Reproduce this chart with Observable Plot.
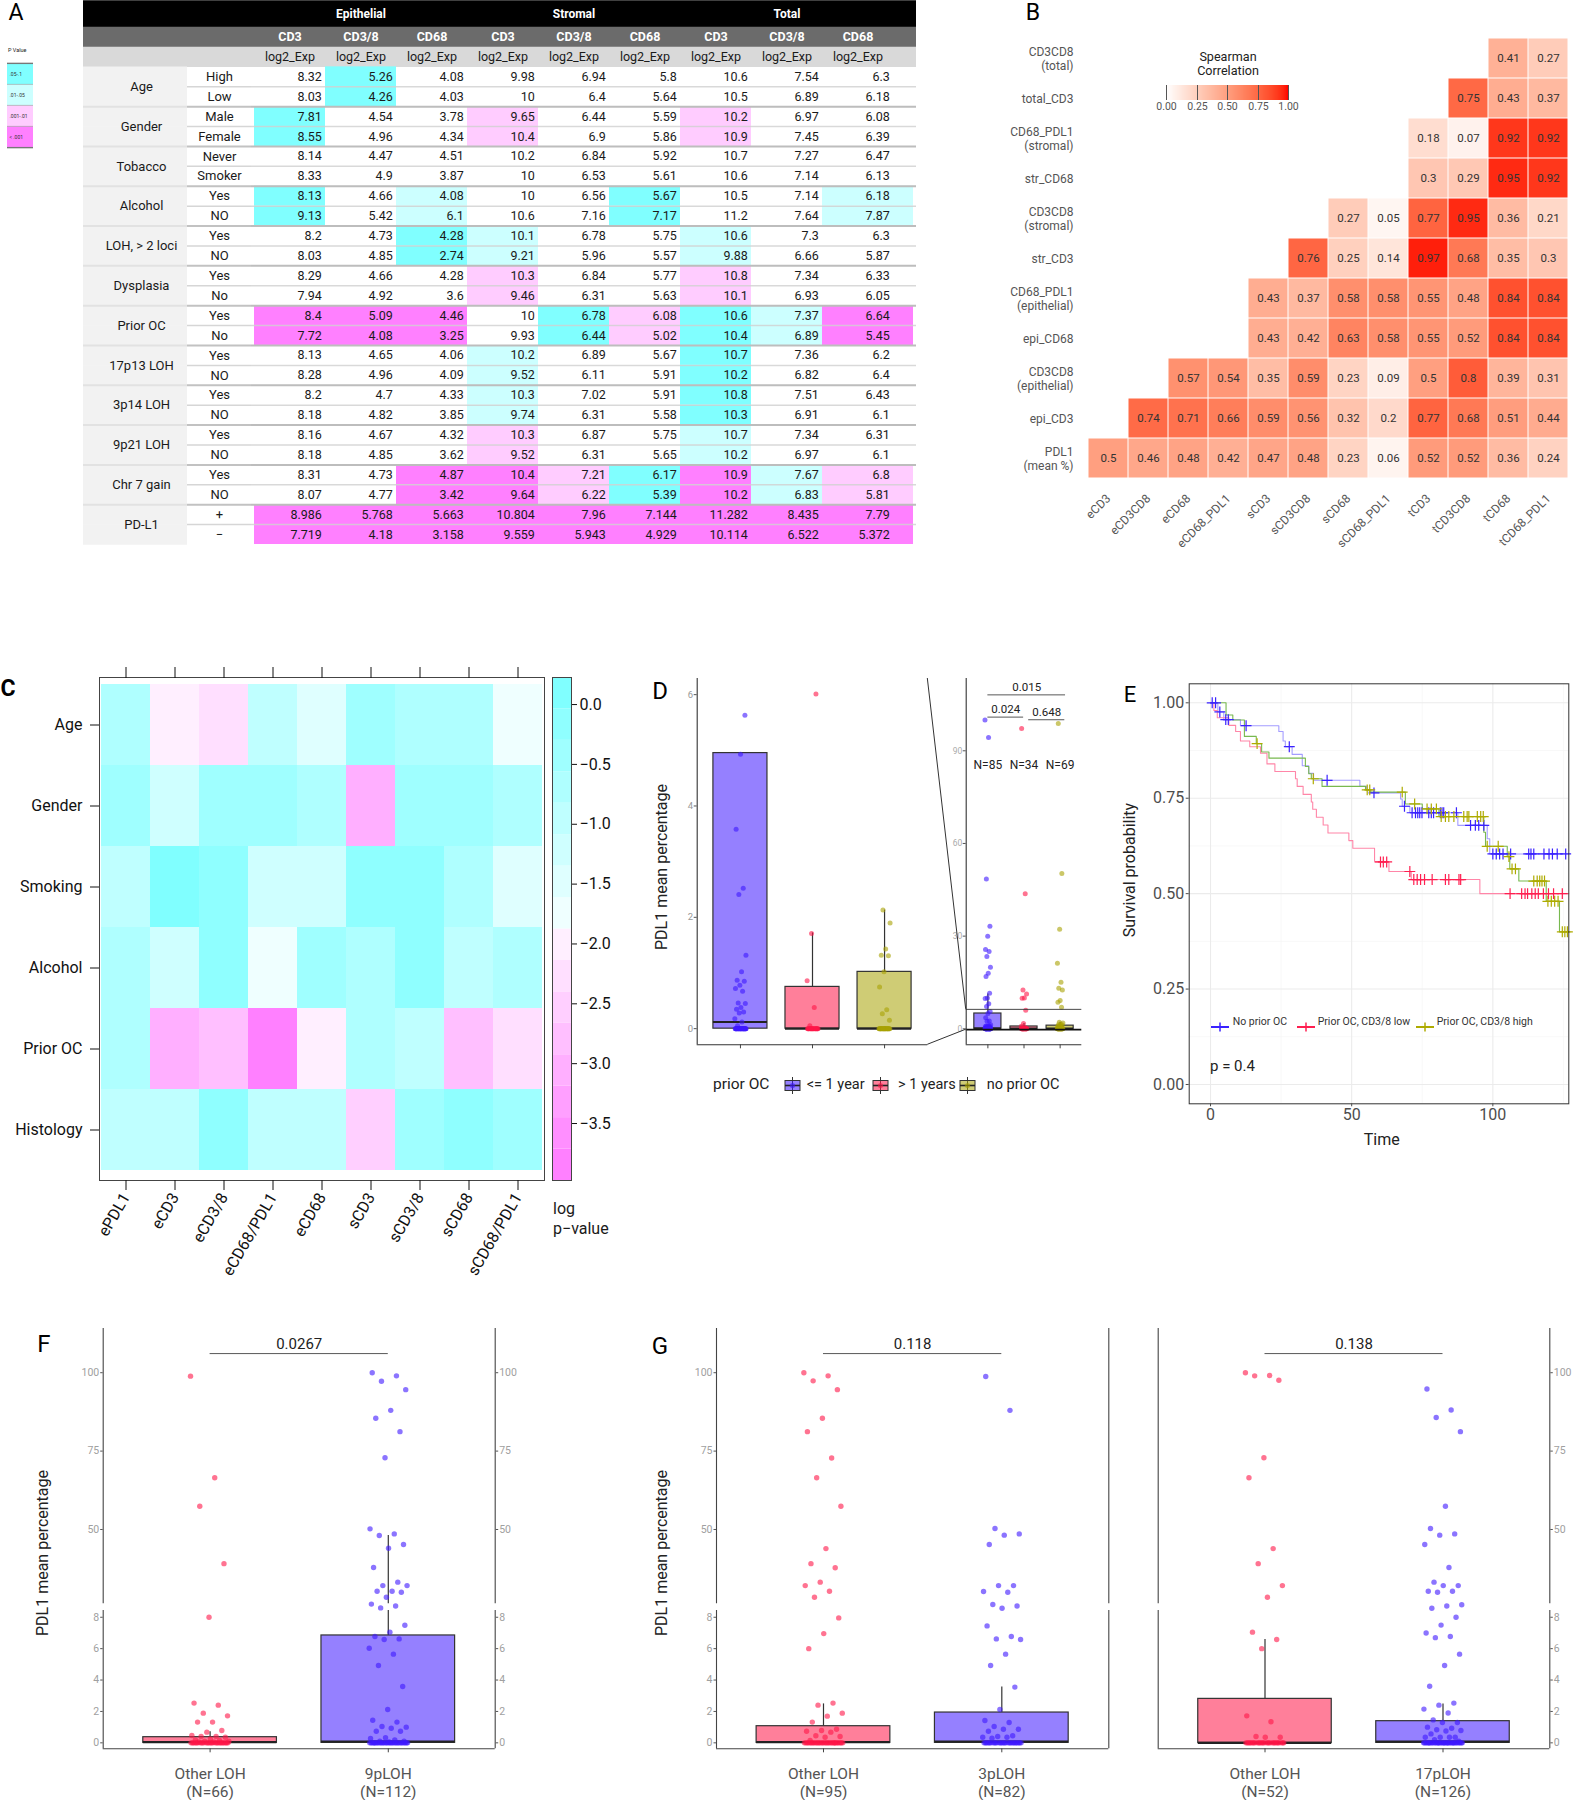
<!DOCTYPE html>
<html><head><meta charset="utf-8">
<script src="https://cdn.jsdelivr.net/npm/d3@7"></script>
<script src="https://cdn.jsdelivr.net/npm/@observablehq/plot@0.6"></script>
<style>
html,body{margin:0;padding:0;background:#fff;}
#root{position:relative;width:1573px;height:1800px;overflow:hidden;font-family:Roboto,"DejaVu Sans",sans-serif;background:#fff;}
#root svg{overflow:visible;}
.t{position:absolute;white-space:pre;line-height:1;color:#1a1a1a;font-family:Roboto,sans-serif;}
</style></head><body><div id="root"></div>
<script>
// ================= DATA =================
// ---- Panel A (table) ----
const aGroups = ["Age","Gender","Tobacco","Alcohol","LOH, > 2 loci","Dysplasia","Prior OC","17p13 LOH","3p14 LOH","9p21 LOH","Chr 7 gain","PD-L1"];
const aLevels = [["High","Low"],["Male","Female"],["Never","Smoker"],["Yes","NO"],["Yes","NO"],["Yes","No"],["Yes","No"],["Yes","NO"],["Yes","NO"],["Yes","NO"],["Yes","NO"],["+","−"]];
const aCompartments = ["Epithelial","Stromal","Total"];
const aMarkers = ["CD3","CD3/8","CD68"];
const aUnit = "log2_Exp";
const aColKeys = ["eCD3","eCD3/8","eCD68","sCD3","sCD3/8","sCD68","tCD3","tCD3/8","tCD68"];
const aEpiCD3  = ["8.32","8.03","7.81","8.55","8.14","8.33","8.13","9.13","8.2","8.03","8.29","7.94","8.4","7.72","8.13","8.28","8.2","8.18","8.16","8.18","8.31","8.07","8.986","7.719"];
const aEpiCD38 = ["5.26","4.26","4.54","4.96","4.47","4.9","4.66","5.42","4.73","4.85","4.66","4.92","5.09","4.08","4.65","4.96","4.7","4.82","4.67","4.85","4.73","4.77","5.768","4.18"];
const aEpiCD68 = ["4.08","4.03","3.78","4.34","4.51","3.87","4.08","6.1","4.28","2.74","4.28","3.6","4.46","3.25","4.06","4.09","4.33","3.85","4.32","3.62","4.87","3.42","5.663","3.158"];
const aStrCD3  = ["9.98","10","9.65","10.4","10.2","10","10","10.6","10.1","9.21","10.3","9.46","10","9.93","10.2","9.52","10.3","9.74","10.3","9.52","10.4","9.64","10.804","9.559"];
const aStrCD38 = ["6.94","6.4","6.44","6.9","6.84","6.53","6.56","7.16","6.78","5.96","6.84","6.31","6.78","6.44","6.89","6.11","7.02","6.31","6.87","6.31","7.21","6.22","7.96","5.943"];
const aStrCD68 = ["5.8","5.64","5.59","5.86","5.92","5.61","5.67","7.17","5.75","5.57","5.77","5.63","6.08","5.02","5.67","5.91","5.91","5.58","5.75","5.65","6.17","5.39","7.144","4.929"];
const aTotCD3  = ["10.6","10.5","10.2","10.9","10.7","10.6","10.5","11.2","10.6","9.88","10.8","10.1","10.6","10.4","10.7","10.2","10.8","10.3","10.7","10.2","10.9","10.2","11.282","10.114"];
const aTotCD38 = ["7.54","6.89","6.97","7.45","7.27","7.14","7.14","7.64","7.3","6.66","7.34","6.93","7.37","6.89","7.36","6.82","7.51","6.91","7.34","6.97","7.67","6.83","8.435","6.522"];
const aTotCD68 = ["6.3","6.18","6.08","6.39","6.47","6.13","6.18","7.87","6.3","5.87","6.33","6.05","6.64","5.45","6.2","6.4","6.43","6.1","6.31","6.1","6.8","5.81","7.79","5.372"];
// p-value class per group and column: 0 none, 1 ".05-.1", 2 ".01-.05", 3 ".001-.01", 4 "< .001"
const aSig = [
  [0,1,0,0,0,0,0,0,0],
  [1,0,0,3,0,0,3,0,0],
  [0,0,0,0,0,0,0,0,0],
  [1,0,2,0,0,1,0,0,2],
  [0,0,1,2,0,0,2,0,0],
  [0,0,0,3,0,0,3,0,0],
  [4,4,4,0,1,3,1,2,4],
  [0,0,0,2,0,0,1,0,0],
  [0,0,0,2,0,0,1,0,0],
  [0,0,0,3,0,0,2,0,0],
  [0,0,4,4,3,1,4,2,3],
  [4,4,4,4,4,4,4,4,4]
];
const aPClasses = [".05-.1",".01-.05",".001-.01","< .001"];
const aPColors = ["#80ffff","#ccffff","#ffccff","#ff80ff"];

// ---- Panel B (Spearman correlation) ----
const bCols = ["eCD3","eCD3CD8","eCD68","eCD68_PDL1","sCD3","sCD3CD8","sCD68","sCD68_PDL1","tCD3","tCD3CD8","tCD68","tCD68_PDL1"];
const bRowLabels = ["CD3CD8\n(total)","total_CD3","CD68_PDL1\n(stromal)","str_CD68","CD3CD8\n(stromal)","str_CD3","CD68_PDL1\n(epithelial)","epi_CD68","CD3CD8\n(epithelial)","epi_CD3","PDL1\n(mean %)"];
const bTotalCD3CD8 = [null,null,null,null,null,null,null,null,null,null,0.41,0.27];
const bTotalCD3    = [null,null,null,null,null,null,null,null,null,0.75,0.43,0.37];
const bStrCD68PDL1 = [null,null,null,null,null,null,null,null,0.18,0.07,0.92,0.92];
const bStrCD68     = [null,null,null,null,null,null,null,null,0.3,0.29,0.95,0.92];
const bStrCD3CD8   = [null,null,null,null,null,null,0.27,0.05,0.77,0.95,0.36,0.21];
const bStrCD3      = [null,null,null,null,null,0.76,0.25,0.14,0.97,0.68,0.35,0.3];
const bEpiCD68PDL1 = [null,null,null,null,0.43,0.37,0.58,0.58,0.55,0.48,0.84,0.84];
const bEpiCD68     = [null,null,null,null,0.43,0.42,0.63,0.58,0.55,0.52,0.84,0.84];
const bEpiCD3CD8   = [null,null,0.57,0.54,0.35,0.59,0.23,0.09,0.5,0.8,0.39,0.31];
const bEpiCD3      = [null,0.74,0.71,0.66,0.59,0.56,0.32,0.2,0.77,0.68,0.51,0.44];
const bPDL1        = [0.5,0.46,0.48,0.42,0.47,0.48,0.23,0.06,0.52,0.52,0.36,0.24];

// ---- Panel C (log p-value heatmap) ----
const cRows = ["Age","Gender","Smoking","Alcohol","Prior OC","Histology"];
const cCols = ["ePDL1","eCD3","eCD3/8","eCD68/PDL1","eCD68","sCD3","sCD3/8","sCD68","sCD68/PDL1"];
const cAge       = [-0.7,-2.0,-2.25,-0.95,-1.45,-0.45,-0.7,-0.7,-1.75];
const cGender    = [-0.5,-1.25,-0.4,-0.5,-0.7,-3.05,-0.5,-0.4,-0.6];
const cSmoking   = [-1.0,0.1,-0.2,-1.25,-1.25,-0.2,-0.2,-0.7,-1.45];
const cAlcohol   = [-0.7,-1.25,-0.2,-1.75,-0.45,-0.7,-0.2,-0.95,-0.7];
const cPriorOC   = [-0.7,-3.05,-2.8,-3.85,-2.0,-0.75,-0.95,-2.8,-2.3];
const cHistology = [-0.95,-0.95,-0.2,-0.95,-0.95,-2.55,-0.45,-0.2,-0.45];
const cKeyRange = [-3.976, 0.226];
const cKeyTicks = [0,-0.5,-1,-1.5,-2,-2.5,-3,-3.5];
const cmColors = ["#FF80FF","#FF8FFF","#FF9FFF","#FFAFFF","#FFBFFF","#FFCFFF","#FFDFFF","#FFEFFF","#EFFFFF","#DFFFFF","#CFFFFF","#BFFFFF","#AFFFFF","#9FFFFF","#8FFFFF","#80FFFF"];

// ---- Panel D (PDL1 by prior OC) ----
const dNames = ["<= 1 year","> 1 years","no prior OC"];
const dN = ["N=85","N=34","N=69"];
const dBlue = [100,94.3,48.5,33.2,30.0,25.7,25.0,23.4,19.9,18.0,16.9,11.5,10.0,9.8,8.1,7.2,5.63,4.93,3.58,2.52,2.41,1.32,1.02,0.87,0.85,0.78,0.72,0.67,0.46,0.45,0.38,0.35,0.3,0.28,0.18,0.12,0.05,
  0,0,0,0,0,0,0,0,0,0,0,0,0,0,0,0,0,0,0,0,0,0,0,0,0,0,0,0,0,0];
const dPink = [97.2,43.7,12.6,11.3,10.0,9.9,6.01,1.71,0.86,0.38,0.05,0,0,0,0,0,0,0,0,0,0,0,0,0,0,0,0,0,0];
const dOlive = [98.8,50.3,32.2,21.2,15.1,13.1,12.6,9.2,8.6,7.0,2.13,1.9,1.43,1.32,1.31,1.02,0.75,0.34,0.27,0.15,
  0,0,0,0,0,0,0,0,0,0,0,0,0,0,0,0,0,0,0,0,0,0,0,0,0];
const dBlueBox = {q1: 0, med: 0.12, q3: 4.95, hi: 11.3};
const dPinkBox = {q1: 0, med: 0, q3: 0.75, hi: 1.72};
const dOliveBox = {q1: 0, med: 0, q3: 1.02, hi: 2.13};
const dSig = [{x1: 1, x2: 3.15, y: 108.1, label: "0.015"},{x1: 1, x2: 1.99, y: 100.9, label: "0.024"},{x1: 2.13, x2: 3.13, y: 100.05, label: "0.648"}];
const dNy = 85.3;
const dZoomY = [-0.29, 6.29];

// ---- Panel E (Kaplan-Meier) ----
const eNames = ["No prior OC","Prior OC, CD3/8 low","Prior OC, CD3/8 high"];
const eNoPriorT = [0,2.6,4.7,10.6,24.2,25.7,26.5,28.9,32.5,34.8,36.5,52.9,55.3,56.8,67.3,67.9,70.6,87.6,98.0,98.9,126.9];
const eNoPriorS = [1,0.976,0.956,0.94,0.925,0.9,0.885,0.865,0.835,0.815,0.797,0.781,0.77,0.764,0.748,0.729,0.712,0.679,0.644,0.604,0.604];
const eNoPriorCens = [0.6,1.8,3.3,5.4,6.3,12.6,27.9,41.3,57.9,68.7,71.4,72.6,73.4,74.1,74.9,77.3,78.2,79.0,81.4,82.0,82.6,87.1,92.1,93.8,95.0,96.8,100.0,101.2,102.4,103.6,106.3,112.7,113.5,114.5,118.1,119.9,121.1,122.8,125.8];
const eLowT = [0,1.2,2.4,6.5,8.9,10.6,13.9,17.7,20.0,22.8,30.1,30.7,32.8,35.7,36.2,37.5,39.9,41.6,49.0,50.4,58.1,63.2,71.1,95.4,126.9];
const eLowS = [1,0.98,0.961,0.941,0.925,0.9,0.885,0.868,0.84,0.82,0.801,0.781,0.76,0.74,0.721,0.7,0.68,0.659,0.639,0.619,0.583,0.558,0.537,0.5,0.5];
const eLowCens = [60.2,61.2,62.4,70.6,72.0,73.2,74.4,75.8,78.5,83.2,84.4,88.0,88.6,106.1,110.2,111.4,112.3,113.8,115.0,116.1,117.9,119.7,121.5,124.6];
const eHighT = [0,5.5,7.9,12.0,16.2,18.1,20.7,33.6,34.8,35.7,39.5,54.9,56.5,69.0,75.0,80.9,96.8,97.4,105.1,106.0,109.2,118.9,123.6,126.9];
const eHighS = [1,0.968,0.955,0.912,0.893,0.871,0.855,0.833,0.814,0.801,0.781,0.772,0.766,0.735,0.722,0.702,0.661,0.624,0.597,0.565,0.533,0.48,0.4,0.4];
const eHighCens = [16.5,36.4,55.5,56.4,67.9,72.3,76.7,78.2,80.0,81.7,83.2,84.4,86.2,89.7,90.9,91.5,94.5,95.7,96.6,98.0,101.9,105.7,106.8,108.0,114.5,115.7,116.6,117.4,118.3,119.5,120.7,121.9,123.1,124.6,125.5,126.4];
const eMajorX = [0,50,100], eMinorX = [25,75,125];
const eMajorY = [0,0.25,0.5,0.75,1], eMinorY = [0.125,0.375,0.625,0.875];
const ePval = "p = 0.4";

// ---- Panels F & G (PDL1 by LOH) ----
const fOther = [98.9,66.5,57.4,39.1,8.0,2.53,2.40,1.89,1.72,1.32,1.32,0.79,0.68,0.47,0.40,0.40,0.36,0.25,0.19,0.15,0.1,0.1,0.05,0.05,
  0,0,0,0,0,0,0,0,0,0,0,0,0,0,0,0,0,0,0,0,0,0,0,0,0,0,0,0,0,0];
const f9p = [100,99.0,97.3,94.6,88.0,85.5,81.2,72.9,50.2,48.6,48.1,45.2,44.0,37.9,33.2,32.1,32.1,30.3,30.3,30.0,28.4,26.2,25.6,25.0,
  7.49,7.05,6.77,6.62,6.58,6.03,5.65,4.93,3.59,2.12,1.44,1.32,1.04,1.0,0.93,0.74,0.74,0.32,0.28,0.19,0.1,0.1,0.05,
  0,0,0,0,0,0,0,0,0,0,0,0,0,0,0,0,0,0,0,0,0,0,0,0,0,0,0,0,0,0,0,0,0,0,0];
const fOtherBox = {q1: 0, med: 0.05, q3: 0.36, hi: 0.7};
const f9pBox = {q1: 0, med: 0.08, q3: 6.84, hi: 48.1};
const fNames = ["Other LOH\n(N=66)","9pLOH\n(N=112)"];
const fSig = {x1: 1, x2: 2, y: 106.1, label: "0.0267"};

const g3Other = [100,99.0,97.4,94.6,85.5,81.2,72.8,66.5,57.4,43.9,39.1,37.8,33.2,32.1,30.3,28.4,7.96,6.96,6.0,2.53,2.4,1.89,1.7,1.32,0.87,0.79,0.74,0.68,0.45,0.4,0.36,0.15,
  0,0,0,0,0,0,0,0,0,0,0,0,0,0,0,0,0,0,0,0,0,0,0,0,0,0,0,0,0,0,0,0,0,0,0];
const g3p = [98.8,88.0,50.3,48.6,48.2,45.2,32.1,32.1,30.2,30.0,26.1,25.6,24.9,7.45,6.77,6.62,6.58,5.65,4.93,3.55,2.12,1.42,1.3,1.04,0.87,0.87,0.74,0.45,0.4,0.36,0.36,0.3,
  0,0,0,0,0,0,0,0,0,0,0,0,0,0,0,0,0,0,0,0,0,0,0,0,0,0,0,0,0,0];
const g3OtherBox = {q1: 0, med: 0.05, q3: 1.06, hi: 2.48};
const g3pBox = {q1: 0, med: 0.08, q3: 1.93, hi: 3.55};
const g3Names = ["Other LOH\n(N=95)","3pLOH\n(N=82)"];
const g3Sig = {x1: 1, x2: 2, y: 106.1, label: "0.118"};

const g17Other = [100,99.1,99.0,97.6,72.9,66.5,43.9,39.1,32.1,28.4,7.05,6.58,6.0,1.72,1.34,0.4,0.36,0.36,
  0,0,0,0,0,0,0,0,0,0,0,0,0,0,0,0,0,0,0,0,0,0,0,0,0,0,0,0,0,0];
const g17p = [94.8,88.1,85.7,81.2,57.4,50.3,48.6,48.2,45.2,37.9,33.2,32.1,32.1,30.3,30.3,30.0,26.0,25.6,24.9,
  8.0,7.5,7.0,6.77,6.7,5.65,4.93,3.6,2.53,2.4,2.15,1.9,1.46,1.3,1.3,1.0,0.93,0.83,0.79,0.75,0.57,0.36,0.36,0.36,0.36,0.2,0.1,
  0,0,0,0,0,0,0,0,0,0,0,0,0,0,0,0,0,0,0,0,0,0,0,0,0,0,0,0,0,0,0,0,0,0,0,0,0,0,0,0];
const g17OtherBox = {q1: 0, med: 0, q3: 2.8, hi: 6.58};
const g17pBox = {q1: 0, med: 0.08, q3: 1.38, hi: 2.48};
const g17Names = ["Other LOH\n(N=52)","17pLOH\n(N=126)"];
const g17Sig = {x1: 1, x2: 2, y: 106.1, label: "0.138"};

const brkUpper = [26.3, 114.1];
const brkLower = [-0.38, 8.43];
const upperTicks = [50,75,100];
const lowerTicks = [0,2,4,6,8];

// colours (styles)
const BLUE = "#3e18ff", RED = "#ff1647", OLIVE = "#a8a204";

// ================= HELPERS =================
const root = document.getElementById("root");
const STY = {fontFamily: "Roboto, sans-serif", background: "transparent", overflow: "visible", maxWidth: "none"};
const fmtInt = d => String(d);
function put(node, left, top) {
  const d = document.createElement("div");
  d.style.cssText = `position:absolute;left:${left}px;top:${top}px;`;
  d.appendChild(node); root.appendChild(d); return node;
}
function txt(s, x, y, fs, o = {}) {
  const d = document.createElement("div");
  d.className = "t"; d.textContent = s;
  const a = o.anchor || "middle";
  const tx = a === "start" ? "0" : a === "end" ? "-100%" : "-50%";
  d.style.left = x + "px"; d.style.top = y + "px"; d.style.fontSize = fs + "px";
  if (o.color) d.style.color = o.color;
  if (o.weight) d.style.fontWeight = o.weight;
  if (o.lh) d.style.lineHeight = o.lh;
  d.style.textAlign = a === "start" ? "left" : a === "end" ? "right" : "center";
  d.style.transform = `translate(${tx},-50%)` + (o.rotate ? ` rotate(${o.rotate}deg)` : "");
  root.appendChild(d); return d;
}
function svgBox(left, top, w, h, inner) {
  const d = document.createElement("div");
  d.style.cssText = `position:absolute;left:${left}px;top:${top}px;width:${w}px;height:${h}px;`;
  d.innerHTML = `<svg width="${w}" height="${h}" viewBox="0 0 ${w} ${h}">${inner}</svg>`;
  root.appendChild(d); return d;
}
function jit(j, w) { return (((j * 0.6180339887498949) % 1) - 0.5) * 2 * w; }
function jittered(groups, w) {
  return groups.flatMap((g, k) => g.values.map((v, j) => ({x: k + 1 + jit(j + 5 * k, w), v, color: g.color})));
}
function boxMarks(groups, lo, hi, fullOnly) {
  const st = groups.map((g, k) => ({...g.stats, i: k + 1, color: g.color}));
  const wh = st.filter(s => fullOnly ? (s.hi <= hi && s.hi > s.q3) : (s.hi > Math.max(s.q3, lo) && Math.max(s.q3, lo) < hi));
  return [
    Plot.ruleX(wh, {x: "i", y1: s => Math.max(s.q3, lo), y2: s => Math.min(s.hi, hi), stroke: "#333", strokeWidth: 1.2}),
    Plot.rect(st.filter(s => s.q3 > lo && s.q1 < hi), {x1: s => s.i - 0.375, x2: s => s.i + 0.375, y1: s => Math.max(s.q1, lo), y2: s => Math.min(s.q3, hi), fill: "color", fillOpacity: 0.55, stroke: "#333", strokeWidth: 1.2}),
    Plot.ruleY(st.filter(s => s.med >= lo && s.med <= hi), {y: "med", x1: s => s.i - 0.375, x2: s => s.i + 0.375, stroke: "#222", strokeWidth: 2.2})
  ];
}

// ================= PANEL A =================
const aColumns = [aEpiCD3, aEpiCD38, aEpiCD68, aStrCD3, aStrCD38, aStrCD68, aTotCD3, aTotCD38, aTotCD68];
const aHeadFill = {H0: "#000000", H1: "#6b6b6b", H2: "#d9d9d9"};
const aRowKeys = aGroups.flatMap((g, gi) => aLevels[gi].map((l, li) => `r${gi}_${li}`));
// each row is split into sub-units so that the first header row can be taller
const aUnitsOf = k => (k === "H0" ? 4 : 3);
const aAllRows = ["H0", "H1", "H2"].concat(aRowKeys);
const aYdom = aAllRows.flatMap(k => d3.range(aUnitsOf(k)).map(j => `${k}#${j}`));
const aH = 544, aU = aH / aYdom.length;
const aMid = k => `${k}#1`, aTop = k => `${k}#0`;
const aCells = aColumns.flatMap((vals, c) => vals.map((v, r) => ({col: aColKeys[c], row: aRowKeys[r], val: v, sig: aSig[Math.floor(r / 2)][c]})));
const aLast = aColKeys[aColKeys.length - 1];
const aMinorSep = aRowKeys.filter((k, i) => i % 2 === 1);
const aMajorSep = aRowKeys.filter((k, i) => i % 2 === 0 && i > 0);
const aY = {type: "band", domain: aYdom, range: [0, aH], padding: 0, axis: null};
const aHeadMarks = [
  Plot.ruleY(["H0"], {y: aMid, dy: aU / 2, stroke: aHeadFill.H0, strokeWidth: 4 * aU + 0.5}),
  Plot.ruleY(["H1", "H2"], {y: aMid, stroke: d => aHeadFill[d], strokeWidth: 3 * aU + 0.5})
];

const aCatPlot = Plot.plot({
  width: 104, height: aH, margin: 0, style: STY, y: aY, color: {type: "identity"},
  marks: [
    ...aHeadMarks,
    Plot.ruleY(aRowKeys, {y: aMid, stroke: "#f2f2f2", strokeWidth: 3 * aU + 0.5}),
    Plot.ruleY(aMajorSep, {y: aTop, dy: -aU / 2, stroke: "#e2e2e2", strokeWidth: 2}),
    Plot.text(aGroups, {y: (d, i) => `${aRowKeys[2 * i]}#2`, text: d => d, dy: aU / 2, dx: 6, fontSize: 13, fill: "#1a1a1a"})
  ]
});
put(aCatPlot, 83, 0);

const aSubPlot = Plot.plot({
  width: 64, height: aH, margin: 0, style: STY, y: aY, color: {type: "identity"},
  marks: [
    ...aHeadMarks,
    Plot.ruleY(aMinorSep, {y: aTop, dy: -aU / 2, stroke: "#d6d6d6", strokeWidth: 1.5}),
    Plot.ruleY(aMajorSep, {y: aTop, dy: -aU / 2, stroke: "#c2c2c2", strokeWidth: 2}),
    Plot.text(aRowKeys, {y: aMid, text: (d, i) => aLevels[Math.floor(i / 2)][i % 2], fontSize: 13, fill: "#1a1a1a"})
  ]
});
put(aSubPlot, 187, 0);

const aColW = 645 / 9;
const aDataPlot = Plot.plot({
  width: 665, height: aH, margin: 0, style: STY, y: aY, color: {type: "identity"},
  x: {type: "band", domain: aColKeys, range: [0, 645], padding: 0, axis: null},
  marks: [
    ...aHeadMarks,
    Plot.cell(aCells.filter(d => d.sig && d.col !== aLast), {x: "col", y: d => aMid(d.row), fill: d => aPColors[d.sig - 1], insetTop: -aU, insetBottom: -aU}),
    Plot.cell(aCells.filter(d => d.sig && d.col === aLast), {x: "col", y: d => aMid(d.row), fill: d => aPColors[d.sig - 1], insetTop: -aU, insetBottom: -aU, insetRight: -20}),
    Plot.ruleY(aMinorSep, {y: aTop, dy: -aU / 2, stroke: "#cfcfcf", strokeOpacity: 0.8, strokeWidth: 1.5}),
    Plot.ruleY(aMajorSep, {y: aTop, dy: -aU / 2, stroke: "#bdbdbd", strokeWidth: 2}),
    Plot.text(aCells, {x: "col", y: d => aMid(d.row), text: "val", textAnchor: "end", dx: aColW / 2 - 4, fontSize: 12.5, fill: "#1a1a1a"}),
    Plot.text(aColKeys, {x: d => d, y: () => "H1#1", text: (d, i) => aMarkers[i % 3], fill: "white", fontWeight: "bold", fontSize: 12.5}),
    Plot.text(aColKeys, {x: d => d, y: () => "H2#1", text: () => aUnit, fill: "#1a1a1a", fontSize: 12.5}),
    Plot.text(aCompartments, {x: (d, i) => aColKeys[i * 3 + 1], y: () => "H0#1", dy: aU / 2, text: d => d, fill: "white", fontWeight: "bold", fontSize: 12})
  ]
});
put(aDataPlot, 251, 0);

// P value legend
txt("P Value", 8, 51, 5.5, {anchor: "start"});
const aLegend = Plot.plot({
  width: 26, height: 85, margin: 0, style: STY, color: {type: "identity"},
  y: {type: "band", domain: aPClasses, range: [0, 85], padding: 0, axis: null},
  marks: [
    Plot.ruleY(aPClasses, {y: d => d, stroke: (d, i) => aPColors[i], strokeWidth: 85 / 4}),
    Plot.ruleY(aPClasses.slice(1), {y: d => d, dy: -85 / 8, stroke: "#9a9a9a", strokeWidth: 0.6}),
    Plot.ruleY(aPClasses.slice(0, 1), {y: d => d, dy: -85 / 8, stroke: "#777", strokeWidth: 1.4}),
    Plot.ruleY(aPClasses.slice(-1), {y: d => d, dy: 85 / 8, stroke: "#777", strokeWidth: 1.4}),
    Plot.text(aPClasses, {y: d => d, text: d => d, frameAnchor: "left", textAnchor: "start", dx: 2, fontSize: 5, fill: "#333"})
  ]
});
put(aLegend, 7, 62);

// ================= PANEL B =================
const bRowsVals = [bTotalCD3CD8, bTotalCD3, bStrCD68PDL1, bStrCD68, bStrCD3CD8, bStrCD3, bEpiCD68PDL1, bEpiCD68, bEpiCD3CD8, bEpiCD3, bPDL1];
const bCells = bRowsVals.flatMap((vals, r) => vals.map((v, c) => v == null ? null : {row: bRowLabels[r], col: bCols[c], r: v}).filter(Boolean));
const bColor = {type: "linear", domain: [0, 1], range: ["#ffffff", "#ff0000"], interpolate: "lab"};
const panelB = Plot.plot({
  width: 573, height: 560, marginLeft: 83, marginRight: 0, marginTop: 33, marginBottom: 77,
  style: {...STY, fontSize: "12px", color: "#555"},
  x: {type: "band", domain: bCols, padding: 0},
  y: {type: "band", domain: bRowLabels, padding: 0},
  color: bColor,
  marks: [
    Plot.cell(bCells, {x: "col", y: "row", fill: "r", inset: 0.5}),
    Plot.text(bCells, {x: "col", y: "row", text: d => String(d.r), fill: "#333", fontSize: 11.5}),
    Plot.axisX({tickRotate: -45, tickSize: 0, tickPadding: 13, label: null, fontSize: 12}),
    Plot.axisY({tickSize: 0, tickPadding: 10, label: null, fontSize: 12, lineHeight: 1.15})
  ]
});
put(panelB, 1000, 0);
txt("Spearman\nCorrelation", 1228, 64, 12.6, {lh: 1.12, color: "#222"});
const bLegend = Plot.legend({
  color: bColor, width: 146, height: 40, marginLeft: 12, marginRight: 12, marginTop: 4, marginBottom: 21,
  ticks: [0, 0.25, 0.5, 0.75, 1], tickFormat: d3.format(".2f"), tickSize: 0, label: null,
  style: {fontFamily: "Roboto, sans-serif", fontSize: "10.5px", color: "#555", background: "transparent"}
});
put(bLegend, 1154, 81);

// ================= PANEL C =================
const cVals = [cAge, cGender, cSmoking, cAlcohol, cPriorOC, cHistology];
const cData = cVals.flatMap((vals, r) => vals.map((v, c) => ({row: cRows[r], col: cCols[c], v})));
const cStep = (cKeyRange[1] - cKeyRange[0]) / cmColors.length;
const cEdges = cmColors.map((_, i) => cKeyRange[0] + i * cStep).concat([cKeyRange[1]]);
const cColor = {type: "threshold", domain: cEdges.slice(1, -1), range: cmColors};
const cBins = cmColors.map((c, i) => ({lo: cEdges[i], hi: cEdges[i + 1], mid: (cEdges[i] + cEdges[i + 1]) / 2}));
const panelC = Plot.plot({
  width: 560, height: 650, marginLeft: 99, marginRight: 16, marginTop: 27, marginBottom: 120,
  style: {...STY, fontSize: "16px", color: "#111"},
  x: {type: "band", domain: cCols, padding: 0},
  y: {type: "band", domain: cRows, padding: 0, range: [31, 522]},
  color: cColor,
  marks: [
    Plot.cell(cData, {x: "col", y: "row", fill: "v"}),
    Plot.frame({stroke: "#444"}),
    Plot.axisY({tickSize: 9, tickPadding: 8, label: null, fontSize: 16}),
    Plot.axisX({anchor: "top", tickSize: 11, tickFormat: () => "", label: null}),
    Plot.axisX({anchor: "bottom", tickSize: 10, tickRotate: -60, tickPadding: 4, label: null, fontSize: 16})
  ]
});
put(panelC, 0, 650);
const cKey = Plot.plot({
  width: 80, height: 650, marginLeft: 12, marginRight: 49, marginTop: 27, marginBottom: 120,
  style: {...STY, fontSize: "16px", color: "#111"},
  y: {domain: cKeyRange},
  color: cColor,
  marks: [
    Plot.rect(cBins, {y1: "lo", y2: "hi", fill: "mid"}),
    Plot.frame({stroke: "#444"}),
    Plot.axisY({anchor: "right", ticks: cKeyTicks, tickFormat: d3.format(".1f"), tickSize: 5, tickPadding: 3, label: null, fontSize: 16})
  ]
});
put(cKey, 540, 650);
txt("log\np−value", 553, 1219, 16, {anchor: "start", lh: 1.25});

// ================= PANEL D =================
const dGroups = [
  {values: dBlue, stats: dBlueBox, color: BLUE},
  {values: dPink, stats: dPinkBox, color: RED},
  {values: dOlive, stats: dOliveBox, color: OLIVE}
];
const dPts = jittered(dGroups, 0.08);
const dLeft = Plot.plot({
  width: 300, height: 420, marginLeft: 56.7, marginRight: 12.7, marginTop: 18, marginBottom: 35.7,
  style: STY, color: {type: "identity"},
  x: {domain: [0.4, 3.6]}, y: {domain: dZoomY},
  marks: [
    ...boxMarks(dGroups, dZoomY[0], dZoomY[1], true),
    Plot.dot(dPts.filter(p => p.v <= dZoomY[1]), {x: "x", y: "v", r: 2.5, fill: "color", fillOpacity: 0.6}),
    Plot.ruleX([0.4], {stroke: "#333", strokeWidth: 1.1}),
    Plot.ruleY([dZoomY[0]], {stroke: "#333", strokeWidth: 1.1}),
    Plot.axisY({ticks: [0, 2, 4, 6], tickSize: 3, tickFormat: () => "", color: "#555", label: null}),
    Plot.axisY({ticks: [0, 2, 4, 6], tickSize: 0, tickPadding: 4, tickFormat: fmtInt, fontSize: 9.5, color: "#999", label: null}),
    Plot.axisX({ticks: [1, 2, 3], tickSize: 4, tickFormat: () => "", color: "#444", label: null})
  ]
});
put(dLeft, 640, 660);
const dRight = Plot.plot({
  width: 160, height: 420, marginLeft: 25.7, marginRight: 18.7, marginTop: 18, marginBottom: 35.7,
  style: STY, color: {type: "identity"},
  x: {domain: [0.4, 3.6]}, y: {domain: [-5.18, 113.4]},
  marks: [
    ...boxMarks(dGroups, -5.18, 113.4, false),
    Plot.dot(dPts, {x: "x", y: "v", r: 2.5, fill: "color", fillOpacity: 0.6}),
    Plot.ruleY([dZoomY[1]], {stroke: "#333", strokeWidth: 0.9}),
    Plot.ruleY([dZoomY[0]], {stroke: "#111", strokeWidth: 1.8}),
    Plot.ruleX([0.4], {stroke: "#333", strokeWidth: 1.1}),
    Plot.ruleY([-5.18], {stroke: "#333", strokeWidth: 1.1}),
    Plot.ruleY(dSig, {y: "y", x1: "x1", x2: "x2", stroke: "#444", strokeWidth: 0.9}),
    Plot.text(dSig, {x: d => (d.x1 + d.x2) / 2, y: "y", text: "label", dy: -7.5, fontSize: 11.5, fill: "#222"}),
    Plot.text(dN, {x: (d, i) => i + 1, y: () => dNy, text: d => d, fontSize: 12, fill: "#222"}),
    Plot.axisY({ticks: [0, 30, 60, 90], tickSize: 3, tickFormat: () => "", color: "#555", label: null}),
    Plot.axisY({ticks: [0, 30, 60, 90], tickSize: 0, tickPadding: 4, tickFormat: fmtInt, fontSize: 8.5, color: "#aaa", label: null}),
    Plot.axisX({ticks: [1, 2, 3], tickSize: 4, tickFormat: () => "", color: "#444", label: null})
  ]
});
put(dRight, 940, 660);
{
  const xl = 640 + dLeft.scale("x").apply(3.6);
  const ylt = 660 + dLeft.scale("y").apply(dZoomY[1]);
  const ylb = 660 + dLeft.scale("y").apply(dZoomY[0]);
  const xr = 940 + dRight.scale("x").apply(0.4);
  const yrt = 660 + dRight.scale("y").apply(dZoomY[1]);
  const yrb = 660 + dRight.scale("y").apply(dZoomY[0]);
  svgBox(0, 0, 1573, 1800, `<line x1="${xl}" y1="${ylt}" x2="${xr}" y2="${yrt}" stroke="#333" stroke-width="1"/><line x1="${xl}" y1="${ylb}" x2="${xr}" y2="${yrb}" stroke="#333" stroke-width="1"/>`).style.pointerEvents = "none";
}
txt("PDL1 mean percentage", 661.7, 866.7, 16, {rotate: -90, color: "#222"});
txt("prior OC", 713, 1085, 15.5, {anchor: "start", color: "#222"});
[BLUE, RED, OLIVE].forEach((c, i) => {
  const kx = [784, 871.7, 959][i], lx = [806.7, 898, 986.7][i];
  svgBox(kx, 1076.5, 17, 17, `<line x1="8.5" y1="0" x2="8.5" y2="17" stroke="#333" stroke-width="1"/><rect x="1" y="3.5" width="15" height="10" fill="${c}" fill-opacity="0.55" stroke="#333" stroke-width="1"/><line x1="1" y1="8.5" x2="16" y2="8.5" stroke="#222" stroke-width="1.6"/><circle cx="8.5" cy="8.5" r="2.6" fill="${c}" fill-opacity="0.6"/>`);
  txt(dNames[i], lx, 1085, 14.5, {anchor: "start", color: "#222"});
});

// ================= PANEL E =================
const eGroups = [
  {t: eNoPriorT, s: eNoPriorS, cens: eNoPriorCens, line: "#a49dff", mark: "#3a22ff"},
  {t: eHighT, s: eHighS, cens: eHighCens, line: "#78b94f", mark: "#aeab00"},
  {t: eLowT, s: eLowS, cens: eLowCens, line: "#ff86a8", mark: "#ff1f50"}
];
function survAt(g, t) { let s = 1; for (let i = 0; i < g.t.length; i++) if (g.t[i] <= t) s = g.s[i]; return s; }
const panelE = Plot.plot({
  width: 473, height: 500, marginLeft: 88.7, marginRight: 4.7, marginTop: 23.3, marginBottom: 56.7,
  style: STY, x: {domain: [-7.55, 126.9]}, y: {domain: [-0.0506, 1.0498]},
  marks: [
    Plot.ruleX(eMinorX, {stroke: "#f3f3f3", strokeWidth: 0.6}),
    Plot.ruleY(eMinorY, {stroke: "#f3f3f3", strokeWidth: 0.6}),
    Plot.ruleX(eMajorX, {stroke: "#ebebeb", strokeWidth: 1.1}),
    Plot.ruleY(eMajorY, {stroke: "#ebebeb", strokeWidth: 1.1}),
    ...eGroups.map(g => Plot.line(g.t.map((t, i) => ({t, s: g.s[i]})), {x: "t", y: "s", curve: "step-after", stroke: g.line, strokeWidth: 1.1})),
    ...eGroups.map(g => Plot.dot(g.cens, {x: d => d, y: d => survAt(g, d), symbol: "plus", r: 3.6, stroke: g.mark, strokeWidth: 1.2})),
    Plot.frame({stroke: "#333", strokeWidth: 1}),
    Plot.axisY({ticks: eMajorY, tickFormat: d3.format(".2f"), tickSize: 3, tickPadding: 2, fontSize: 16, color: "#4d4d4d", label: null}),
    Plot.axisX({ticks: eMajorX, tickSize: 3, tickPadding: 2, tickFormat: fmtInt, fontSize: 16, color: "#4d4d4d", label: null})
  ]
});
put(panelE, 1100, 660);
txt("Survival probability", 1130, 870, 16, {rotate: -90, color: "#222"});
txt("Time", 1381.7, 1140, 16, {color: "#222"});
txt(ePval, 1210, 1066, 15, {anchor: "start", color: "#222"});
["#3a22ff", "#ff1f50", "#aeab00"].forEach((c, i) => {
  const kx = [1211, 1296.7, 1416][i], lx = [1232.7, 1317.7, 1436.7][i];
  svgBox(kx, 1016.7, 18, 10, `<line x1="0" y1="5" x2="18" y2="5" stroke="${c}" stroke-width="2"/><path d="M9,0.5V9.5M4.5,5H13.5" stroke="${c}" stroke-width="1.5"/>`);
  txt(eNames[i], lx, 1021.7, 10.5, {anchor: "start", color: "#333"});
});

// ================= PANELS F & G =================
function yAxes(sides, ticks) {
  return sides.flatMap(side => [
    Plot.axisY({anchor: side, ticks, tickSize: 2.5, tickFormat: () => "", color: "#555", label: null}),
    Plot.axisY({anchor: side, ticks, tickSize: 0, tickPadding: 4, tickFormat: fmtInt, fontSize: 10.5, color: "#a0a0a0", label: null})
  ]);
}
function breakPanel(o) {
  const xDom = [0.4, 2.6];
  const pts = jittered(o.groups, 0.11);
  const up = Plot.plot({
    width: o.width, height: 300, marginLeft: o.mL, marginRight: o.mR, marginTop: 18, marginBottom: 6.7,
    style: STY, color: {type: "identity"},
    x: {domain: xDom, axis: null}, y: {domain: brkUpper},
    marks: [
      ...boxMarks(o.groups, brkUpper[0], brkUpper[1], false),
      Plot.dot(pts.filter(p => p.v > brkLower[1]), {x: "x", y: "v", r: 2.7, fill: "color", fillOpacity: 0.6}),
      Plot.ruleX(xDom, {stroke: "#444", strokeWidth: 1.1}),
      ...yAxes(o.sides, upperTicks),
      Plot.ruleY([o.sig], {y: "y", x1: "x1", x2: "x2", stroke: "#444", strokeWidth: 0.9}),
      Plot.text([o.sig], {x: d => (d.x1 + d.x2) / 2, y: "y", text: "label", dy: -9, fontSize: 15, fill: "#222"})
    ]
  });
  put(up, o.left, 1310);
  const lo = Plot.plot({
    width: o.width, height: 190, marginLeft: o.mL, marginRight: o.mR, marginTop: 0, marginBottom: 51.7,
    style: STY, color: {type: "identity"},
    x: {domain: xDom}, y: {domain: brkLower},
    marks: [
      ...boxMarks(o.groups, brkLower[0], brkLower[1], false),
      Plot.dot(pts.filter(p => p.v <= brkLower[1]), {x: "x", y: "v", r: 2.7, fill: "color", fillOpacity: 0.6}),
      Plot.ruleX(xDom, {stroke: "#444", strokeWidth: 1.1}),
      Plot.ruleY([brkLower[0]], {stroke: "#444", strokeWidth: 1.1}),
      ...yAxes(o.sides, lowerTicks),
      Plot.axisX({ticks: [1, 2], tickSize: 4, tickFormat: () => "", color: "#444", label: null}),
      Plot.text(o.names, {x: (d, i) => i + 1, text: d => d, frameAnchor: "bottom", lineAnchor: "top", dy: 18, fontSize: 15.5, fill: "#555", lineHeight: 1.15})
    ]
  });
  put(lo, o.left, 1610);
}
breakPanel({left: 0, width: 520, mL: 102.7, mR: 25.3, sides: ["left", "right"], sig: fSig, names: fNames,
  groups: [{values: fOther, stats: fOtherBox, color: RED}, {values: f9p, stats: f9pBox, color: BLUE}]});
breakPanel({left: 640, width: 480, mL: 76, mR: 11.7, sides: ["left"], sig: g3Sig, names: g3Names,
  groups: [{values: g3Other, stats: g3OtherBox, color: RED}, {values: g3p, stats: g3pBox, color: BLUE}]});
breakPanel({left: 1120, width: 453, mL: 37.7, mR: 23.7, sides: ["right"], sig: g17Sig, names: g17Names,
  groups: [{values: g17Other, stats: g17OtherBox, color: RED}, {values: g17p, stats: g17pBox, color: BLUE}]});
txt("PDL1 mean percentage", 43, 1553, 16, {rotate: -90, color: "#222"});
txt("PDL1 mean percentage", 661.7, 1553, 16, {rotate: -90, color: "#222"});

// ================= PANEL LETTERS =================
txt("A", 16, 12, 23, {color: "#000"});
txt("B", 1033, 12, 23, {color: "#000"});
txt("C", 8, 688, 23, {color: "#000", weight: "bold"});
txt("D", 660, 691, 24, {color: "#000"});
txt("E", 1130, 695, 22, {color: "#000"});
txt("F", 44, 1344, 24, {color: "#000"});
txt("G", 660, 1346, 24, {color: "#000"});
</script></body></html>
